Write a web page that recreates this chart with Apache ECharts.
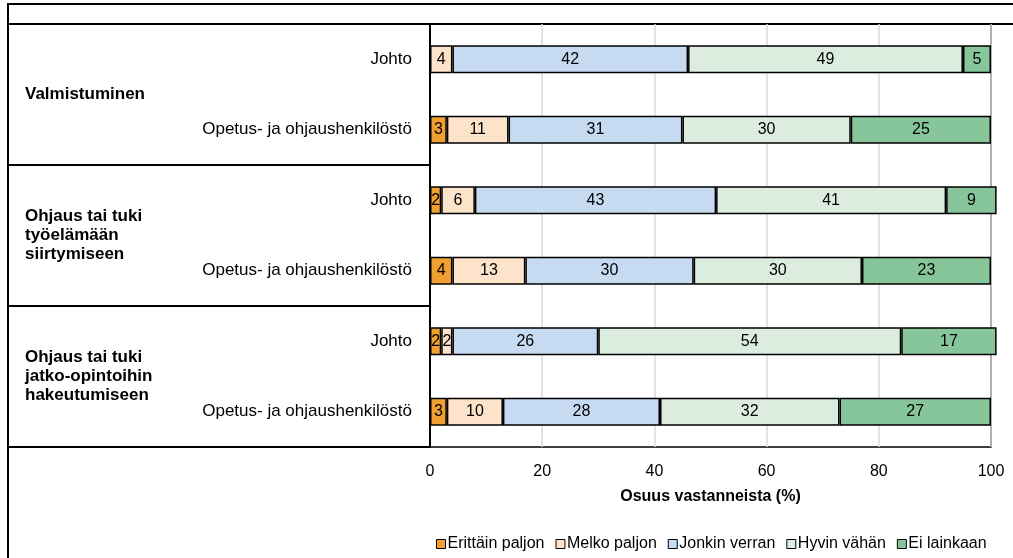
<!DOCTYPE html>
<html>
<head>
<meta charset="utf-8">
<script src="https://cdn.jsdelivr.net/npm/echarts@6/dist/echarts.min.js"></script>
<style>
  html, body { margin: 0; padding: 0; background: #fff; }
  #chart { width: 1013px; height: 558px; }
</style>
</head>
<body>
<div id="chart"></div>
<script>
// rivit (ylhäältä alas)
const rows = ['Johto', 'Opetus- ja ohjaushenkilöstö', 'Johto', 'Opetus- ja ohjaushenkilöstö', 'Johto', 'Opetus- ja ohjaushenkilöstö'];
// ryhmät, kaksi riviä kussakin
const groups = ['Valmistuminen', 'Ohjaus tai tuki\ntyöelämään\nsiirtymiseen', 'Ohjaus tai tuki\njatko-opintoihin\nhakeutumiseen'];
const seriesNames = ['Erittäin paljon', 'Melko paljon', 'Jonkin verran', 'Hyvin vähän', 'Ei lainkaan'];
const erittainPaljon = [0, 3, 2, 4, 2, 3];
const melkoPaljon = [4, 11, 6, 13, 2, 10];
const jonkinVerran = [42, 31, 43, 30, 26, 28];
const hyvinVahan = [49, 30, 41, 30, 54, 32];
const eiLainkaan = [5, 25, 9, 23, 17, 27];
const xMin = 0, xMax = 100, xStep = 20;

const values = [erittainPaljon, melkoPaljon, jonkinVerran, hyvinVahan, eiLainkaan];
const colors = ['#F0A030', '#FCE3C9', '#C6DBF1', '#DCEDE0', '#86C69A'];
const font = "'Liberation Sans Narrow', 'Arial Narrow', 'Liberation Sans', Arial, sans-serif";

const chart = echarts.init(document.getElementById('chart'));

chart.setOption({
  backgroundColor: '#fff',
  animation: false,
  textStyle: { fontFamily: font },
  grid: {
    left: 430,
    right: 22,
    top: 24,
    bottom: 111,
    show: true,
    borderColor: '#000',
    borderWidth: 1.5
  },
  legend: {
    data: seriesNames,
    left: 431,
    bottom: 1,
    icon: 'rect',
    itemWidth: 9,
    itemHeight: 9,
    itemGap: 11,
    itemStyle: { borderColor: '#000', borderWidth: 1 },
    textStyle: { fontFamily: font, fontSize: 16, color: '#000', padding: [0, 0, 0, -3] }
  },
  xAxis: {
    type: 'value',
    min: xMin,
    max: xMax,
    interval: xStep,
    name: 'Osuus vastanneista (%)',
    nameLocation: 'middle',
    nameGap: 42,
    nameTextStyle: { fontFamily: font, fontSize: 16, fontWeight: 'bold', color: '#000' },
    axisLine: { show: false },
    axisTick: { show: false },
    axisLabel: { fontFamily: font, fontSize: 16, color: '#000', margin: 17 },
    splitLine: { lineStyle: { color: '#d9d9d9', width: 1.5 } }
  },
  yAxis: [
    {
      type: 'category',
      data: rows,
      inverse: true,
      axisLine: { lineStyle: { color: '#000', width: 2 } },
      axisTick: { show: false },
      axisLabel: { fontFamily: font, fontSize: 17, color: '#000', margin: 18 }
    },
    {
      type: 'category',
      data: groups,
      inverse: true,
      position: 'left',
      offset: 422,
      axisLine: { lineStyle: { color: '#000', width: 2 } },
      axisTick: { show: true, inside: true, length: 422, lineStyle: { color: '#000', width: 2 } },
      axisLabel: {
        inside: true,
        align: 'left',
        margin: 17,
        fontFamily: font,
        fontSize: 17,
        fontWeight: 'bold',
        lineHeight: 19,
        color: '#000'
      }
    }
  ],
  graphic: [
    { type: 'rect', shape: { x: 8, y: 4, width: 1200, height: 700 }, style: { fill: 'none', stroke: '#000', lineWidth: 2 } },
    { type: 'line', shape: { x1: 8, y1: 24, x2: 1013, y2: 24 }, style: { stroke: '#000', lineWidth: 2 } }
  ],
  series: seriesNames.map((name, i) => ({
    name: name,
    type: 'bar',
    stack: 'total',
    yAxisIndex: 0,
    barWidth: 28,
    clip: false,
    data: values[i],
    itemStyle: { color: colors[i], borderColor: '#000', borderWidth: 1.5 },
    label: {
      show: true,
      position: 'inside',
      color: '#000',
      fontFamily: font,
      fontSize: 16,
      formatter: p => (p.value > 0 ? p.value : '')
    }
  }))
});
</script>
</body>
</html>
